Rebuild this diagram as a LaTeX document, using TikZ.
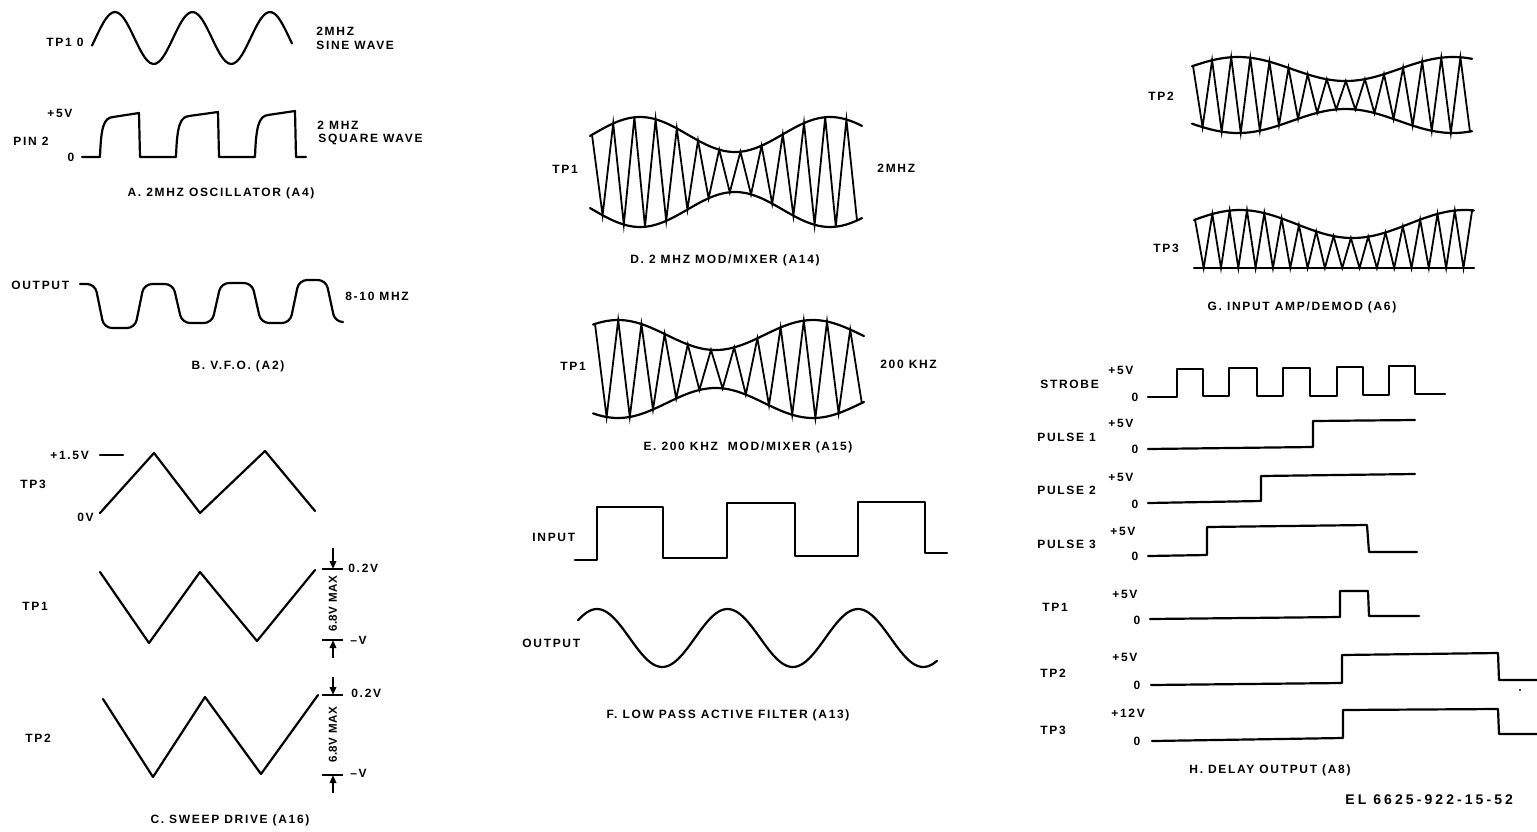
\documentclass[tikz,border=0pt]{standalone}
\usepackage{fontspec}
\setmainfont{Liberation Sans}
\usetikzlibrary{arrows.meta}
\begin{document}
\begin{tikzpicture}[x=0.5pt,y=-0.5pt,
  wave/.style={line width=1.1pt, line join=round, line cap=round},
  carrier/.style={line width=0.9pt, line join=miter},
  lbl/.style={font=\fontsize{6}{7}\selectfont\bfseries\addfontfeature{LetterSpace=14}, inner sep=0pt},
  capt/.style={font=\fontsize{6}{7}\selectfont\bfseries\addfontfeature{LetterSpace=14}, inner sep=0pt},
  rotlbl/.style={font=\fontsize{5.8}{7}\selectfont\bfseries\addfontfeature{LetterSpace=4}, inner sep=0pt, rotate=90},
  dimarrow/.style={line width=1pt, -{Triangle[length=4pt,width=3.2pt]}}]
\useasboundingbox (0,0) rectangle (1537,831);
\fill[white] (0,0) rectangle (1537,831);

% ---------------- A ----------------
\node[lbl,anchor=west] (atp) at (46,42) {TP1 0};
\draw[wave] plot[smooth,domain=92:292,samples=70] (\x,{38-26*cos((\x-115)/77.5*360)});
\node[lbl,anchor=west] (a2m) at (316,31) {2MHZ};
\node[lbl,anchor=west] (asw) at (316,45) {SINE WAVE};
\node[lbl,anchor=west] (a5v) at (47,113) {+5V};
\node[lbl,anchor=west] (apin) at (13,141) {PIN 2};
\node[lbl] (a0) at (71,157) {0};
\draw[wave] (82,157) -- (100,157) .. controls (101,126) and (104,118) .. (113,117) -- (139,113) -- (140,157)
  -- (176,157) .. controls (177,126) and (180,117) .. (189,116) -- (218,112) -- (219,157)
  -- (255,157) .. controls (256,126) and (259,116) .. (268,115) -- (295,111) -- (296,157) -- (306,157);
\node[lbl,anchor=west] (a2mb) at (317,125) {2 MHZ};
\node[lbl,anchor=west] (asq) at (318,139) {SQUARE WAVE};
\node[capt] (acap) at (221,193) {A. 2MHZ OSCILLATOR (A4)};

% ---------------- B ----------------
\node[lbl,anchor=west] (bout) at (11,285) {OUTPUT};
\draw[wave, rounded corners=4pt] (80,284) -- (95,284) -- (104,328) -- (135,328) -- (144,284) -- (173,284)
  -- (182,323) -- (212,323) -- (221,283) -- (252,283) -- (261,323) -- (290,323) -- (299,280)
  -- (326,280) -- (335,322) -- (342,322);
\node[lbl,anchor=west] (bfreq) at (345,296) {8-10 MHZ};
\node[capt] (bcap) at (238,366) {B. V.F.O. (A2)};

% ---------------- C ----------------
\node[lbl,anchor=west] (c15) at (50,455) {+1.5V};
\draw[wave] (100,455) -- (123,455);
\node[lbl,anchor=west] (ctp3) at (20,484) {TP3};
\node[lbl,anchor=west] (c0v) at (77,517) {0V};
\draw[wave] (100,513) -- (154,453) -- (200,513) -- (265,451) -- (315,511);

\node[lbl,anchor=west] (ctp1) at (22,606) {TP1};
\draw[wave] (100,572) -- (149,643) -- (200,572) -- (257,641) -- (315,570);
\draw[line width=1pt] (322,569) -- (343,569);
\draw[line width=1pt] (322,640) -- (343,640);
\draw[dimarrow] (333,548) -- (333,569);
\draw[dimarrow] (333,658) -- (333,640);
\node[rotlbl] (c1max) at (333,604) {6.8V MAX};
\node[lbl,anchor=west] (c1top) at (348,568) {0.2V};
\node[lbl,anchor=west] (c1bot) at (350,640) {–V};

\node[lbl,anchor=west] (ctp2) at (25,738) {TP2};
\draw[wave] (103,699) -- (153,777) -- (205,697) -- (261,774) -- (318,695);
\draw[line width=1pt] (322,695) -- (343,695);
\draw[line width=1pt] (322,775) -- (343,775);
\draw[dimarrow] (333,677) -- (333,695);
\draw[dimarrow] (333,793) -- (333,775);
\node[rotlbl] (c2max) at (333,735) {6.8V MAX};
\node[lbl,anchor=west] (c2top) at (351,693) {0.2V};
\node[lbl,anchor=west] (c2bot) at (350,773) {–V};
\node[capt] (ccap) at (230,820) {C. SWEEP DRIVE (A16)};

% ---------------- D ----------------
\node[lbl,anchor=west] (dtp) at (552,169) {TP1};
\node[lbl,anchor=west] (dfreq) at (877,168) {2MHZ};
\draw[wave] plot[smooth,domain=590:862,samples=60] (\x,{172-(37.5+17.5*cos((\x-640)/190*360))});
\draw[wave] plot[smooth,domain=590:862,samples=60] (\x,{172+(37.5+17.5*cos((\x-640)/190*360))});
\draw[carrier] plot[samples at={0,...,25}] ({592+\x*10.6},{172-cos(180*\x)*(37.5+17.5*cos((592+\x*10.6-640)/190*360))});
\node[capt] (dcap) at (725,260) {D. 2 MHZ MOD/MIXER (A14)};

% ---------------- E ----------------
\node[lbl,anchor=west] (etp) at (560,366) {TP1};
\node[lbl,anchor=west] (efreq) at (880,364) {200 KHZ};
\draw[wave] plot[smooth,domain=593:864,samples=60] (\x,{369-(34+15*cos((\x-618)/195*360))});
\draw[wave] plot[smooth,domain=593:864,samples=60] (\x,{369+(34+15*cos((\x-618)/195*360))});
\draw[carrier] plot[samples at={0,...,23}] ({595+\x*11.6},{369-cos(180*\x)*(34+15*cos((595+\x*11.6-618)/195*360))});
\node[capt] (ecap) at (748,447) {E. 200 KHZ\ \ MOD/MIXER (A15)};

% ---------------- F ----------------
\node[lbl,anchor=west] (fin) at (532,537) {INPUT};
\draw[wave] (575,560) -- (597,560) -- (597,507) -- (663,507) -- (663,558) -- (727,558) -- (727,503)
  -- (795,503) -- (795,556) -- (858,556) -- (858,502) -- (925,502) -- (925,553) -- (947,553);
\node[lbl,anchor=west] (fout) at (522,643) {OUTPUT};
\draw[wave] plot[smooth,domain=578:937,samples=80] (\x,{638-29*cos((\x-597)/130.5*360)});
\node[capt] (fcap) at (728,715) {F. LOW PASS ACTIVE FILTER (A13)};

% ---------------- G ----------------
\node[lbl,anchor=west] (gtp2) at (1148,96) {TP2};
\draw[wave] plot[smooth,domain=1192:1472,samples=60] (\x,{95-(26+12*cos((\x-1238)/215*360))});
\draw[wave] plot[smooth,domain=1192:1472,samples=60] (\x,{95+(26+12*cos((\x-1238)/215*360))});
\draw[carrier] plot[samples at={0,...,29}] ({1193+\x*9.55},{95-cos(180*\x)*(26+12*cos((1193+\x*9.55-1238)/215*360))});
\node[lbl,anchor=west] (gtp3) at (1153,248) {TP3};
\draw[wave] plot[smooth,domain=1194:1474,samples=60] (\x,{268-(44+14*cos((\x-1240)/225*360))});
\draw[wave] (1194,268) -- (1474,268);
\draw[carrier] plot[samples at={0,...,32}] ({1195+\x*8.66},{268-(1+cos(180*\x))/2*(44+14*cos((1195+\x*8.66-1240)/225*360))});
\node[capt] (gcap) at (1302,307) {G. INPUT AMP/DEMOD (A6)};

% ---------------- H ----------------
\node[lbl,anchor=west] (hstr) at (1040,384) {STROBE};
\node[lbl,anchor=west] (hp1) at (1037,437) {PULSE 1};
\node[lbl,anchor=west] (hp2) at (1037,490) {PULSE 2};
\node[lbl,anchor=west] (hp3) at (1037,544) {PULSE 3};
\node[lbl,anchor=west] (htp1) at (1042,607) {TP1};
\node[lbl,anchor=west] (htp2) at (1040,673) {TP2};
\node[lbl,anchor=west] (htp3) at (1040,730) {TP3};
\node[lbl,anchor=west] (hv1) at (1108,370) {+5V};
\node[lbl,anchor=west] (hv2) at (1108,423) {+5V};
\node[lbl,anchor=west] (hv3) at (1108,477) {+5V};
\node[lbl,anchor=west] (hv4) at (1110,531) {+5V};
\node[lbl,anchor=west] (hv5) at (1112,594) {+5V};
\node[lbl,anchor=west] (hv6) at (1112,657) {+5V};
\node[lbl,anchor=west] (hv7) at (1111,713) {+12V};
\node[lbl] (hz1) at (1135,397) {0};
\node[lbl] (hz2) at (1135,449) {0};
\node[lbl] (hz3) at (1135,504) {0};
\node[lbl] (hz4) at (1135,556) {0};
\node[lbl] (hz5) at (1137,620) {0};
\node[lbl] (hz6) at (1137,685) {0};
\node[lbl] (hz7) at (1137,741) {0};
\draw[wave] (1148,397) -- (1177,397) -- (1177,369) -- (1203,369) -- (1203,396) -- (1229,396) -- (1229,368)
  -- (1257,368) -- (1257,396) -- (1283,396) -- (1283,368) -- (1310,368) -- (1310,396) -- (1337,396)
  -- (1337,367) -- (1363,367) -- (1363,395) -- (1389,395) -- (1389,366) -- (1415,366) -- (1415,394) -- (1445,394);
\draw[wave] (1148,449) -- (1313,447) -- (1313,421) -- (1415,420);
\draw[wave] (1148,503) -- (1261,501) -- (1261,476) -- (1415,474);
\draw[wave] (1148,556) -- (1207,555) -- (1207,527) -- (1367,525) -- (1369,552) -- (1417,552);
\draw[wave] (1150,619) -- (1340,617) -- (1340,591) -- (1368,591) -- (1369,616) -- (1419,616);
\draw[wave] (1151,685) -- (1342,683) -- (1342,655) -- (1498,653) -- (1499,680) -- (1537,680);
\draw[wave] (1152,741) -- (1343,738) -- (1343,710) -- (1498,709) -- (1499,734) -- (1537,734);
\fill (1520,690) circle (1.2);
\node[capt] (hcap) at (1270,770) {H. DELAY OUTPUT (A8)};
\node[lbl,anchor=west,font=\fontsize{7}{8}\selectfont\bfseries\addfontfeature{LetterSpace=22}] (hcode) at (1345,800) {EL 6625-922-15-52};
\end{tikzpicture}
\end{document}
